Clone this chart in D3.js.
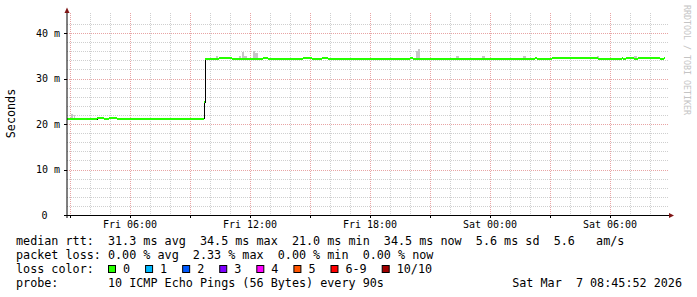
<!DOCTYPE html>
<html>
<head>
<meta charset="utf-8">
<script src="https://cdn.jsdelivr.net/npm/d3@7"></script>
<style>
  body { margin: 0; background: #fff; }
  text { font-family: "DejaVu Sans Mono", monospace; white-space: pre; }
</style>
</head>
<body>
<svg id="chart" width="697" height="297"></svg>
<script>
// median rtt (ms), step values
const rttTimes = [
  "2026-03-06 02:51", "2026-03-06 03:00", "2026-03-06 03:06", "2026-03-06 03:12", "2026-03-06 03:18",
  "2026-03-06 03:27", "2026-03-06 04:03", "2026-03-06 04:21", "2026-03-06 04:42", "2026-03-06 04:57",
  "2026-03-06 05:21", "2026-03-06 05:36", "2026-03-06 05:48", "2026-03-06 06:00", "2026-03-06 07:42",
  "2026-03-06 07:57", "2026-03-06 09:42", "2026-03-06 09:45", "2026-03-06 10:27", "2026-03-06 11:06",
  "2026-03-06 12:39", "2026-03-06 12:54", "2026-03-06 14:39", "2026-03-06 15:06", "2026-03-06 15:36",
  "2026-03-06 15:54", "2026-03-06 20:00", "2026-03-06 20:09", "2026-03-07 02:15", "2026-03-07 02:21",
  "2026-03-07 03:06", "2026-03-07 05:24", "2026-03-07 06:36", "2026-03-07 06:39", "2026-03-07 06:48",
  "2026-03-07 07:12", "2026-03-07 07:24", "2026-03-07 08:30", "2026-03-07 08:42", "2026-03-07 08:45"
];
const rttMedian = [
  21.0, 21.2, 21.0, 21.2, 21.0,
  21.2, 21.0, 21.3, 21.2, 21.3,
  21.0, 21.2, 21.0, 21.2, 21.1,
  21.2, 24.8, 34.3, 34.5, 34.3,
  34.5, 34.3, 34.5, 34.3, 34.5,
  34.3, 34.5, 34.3, 34.5, 34.3,
  34.5, 34.3, 34.5, 34.3, 34.5,
  34.3, 34.5, 34.3, 34.5, 34.5
];

// smoke (ping spread) that shows above the median line
const smokeStart = ["2026-03-06 03:03", "2026-03-06 03:12", "2026-03-06 10:18", "2026-03-06 11:27", "2026-03-06 11:36",
  "2026-03-06 11:42", "2026-03-06 12:09", "2026-03-06 12:15", "2026-03-06 20:18", "2026-03-06 20:24",
  "2026-03-06 22:18", "2026-03-06 23:36", "2026-03-07 01:39", "2026-03-07 05:21", "2026-03-07 07:12"];
const smokeEnd = ["2026-03-06 03:09", "2026-03-06 03:15", "2026-03-06 10:24", "2026-03-06 11:33", "2026-03-06 11:42",
  "2026-03-06 11:51", "2026-03-06 12:15", "2026-03-06 12:24", "2026-03-06 20:24", "2026-03-06 20:30",
  "2026-03-06 22:27", "2026-03-06 23:45", "2026-03-07 01:48", "2026-03-07 05:27", "2026-03-07 07:21"];
const smokeTop = [22.2, 22.0, 34.9, 34.9, 35.9, 34.9, 36.0, 35.5, 36.0, 36.5, 34.9, 34.9, 34.9, 34.9, 34.9];

const yTickLabels = ["0", "10 m", "20 m", "30 m", "40 m"];
const yTickValues = [0, 10, 20, 30, 40];

const lossLabels = ["0", "1", "2", "3", "4", "5", "6-9", "10/10"];
const lossColors = ["#26ff00", "#00b8ff", "#0059ff", "#7e00ff", "#ff00ff", "#ff5500", "#ff0000", "#a10000"];

const legendLines = [
  "median rtt:  31.3 ms avg  34.5 ms max  21.0 ms min  34.5 ms now  5.6 ms sd  5.6   am/s",
  "packet loss: 0.00 % avg  2.33 % max  0.00 % min  0.00 % now",
  "loss color:",
  "probe:       10 ICMP Echo Pings (56 Bytes) every 90s"
];
const stampText = "Sat Mar  7 08:45:52 2026";

const parseT = d3.timeParse("%Y-%m-%d %H:%M");
const rtt = rttTimes.map((t, i) => ({t: parseT(t), v: rttMedian[i]}));

const svg = d3.select('#chart');
const plotL = 67, plotR = 667, plotT = 13, plotB = 215;

const x = d3.scaleTime()
  .domain([parseT("2026-03-06 02:51"), parseT("2026-03-07 08:51")])
  .range([plotL, plotR]);
const y = d3.scaleLinear().domain([0, 44.4]).range([plotB, plotT]);

const px = v => Math.round(v) + 0.5;

// grid
let grid = svg.append('g').attr('class', 'grid').attr('stroke-dasharray', '1,1');

grid.selectAll('line.hmin')
  .data(d3.range(2, 44, 2).filter(d => d % 10 != 0))
  .enter().append('line')
  .attr('x1', plotL).attr('x2', plotR + 1)
  .attr('y1', d => px(y(d))).attr('y2', d => px(y(d)))
  .style('stroke', '#cfcfcf');

grid.selectAll('line.vmin')
  .data(x.ticks(d3.timeHour.every(1)).filter(d => d.getHours() % 3 != 0))
  .enter().append('line')
  .attr('x1', d => px(x(d))).attr('x2', d => px(x(d)))
  .attr('y1', plotT).attr('y2', plotB)
  .style('stroke', '#cfcfcf');

grid.selectAll('line.hmaj')
  .data([10, 20, 30, 40])
  .enter().append('line')
  .attr('x1', plotL).attr('x2', plotR + 1)
  .attr('y1', d => px(y(d))).attr('y2', d => px(y(d)))
  .style('stroke', '#e8a4a4');

grid.selectAll('line.vmaj')
  .data(x.ticks(d3.timeHour.every(3)))
  .enter().append('line')
  .attr('x1', d => px(x(d))).attr('x2', d => px(x(d)))
  .attr('y1', plotT).attr('y2', plotB)
  .style('stroke', '#e8a4a4');

// smoke
const bis = d3.bisector(d => d.t).right;
const medianAt = t => rtt[Math.max(0, bis(rtt, t) - 1)].v;

svg.append('g').attr('class', 'smoke')
  .selectAll('rect')
  .data(smokeTop.map((v, i) => ({s: parseT(smokeStart[i]), e: parseT(smokeEnd[i]), v: v})))
  .enter().append('rect')
  .attr('x', d => x(d.s))
  .attr('width', d => x(d.e) - x(d.s))
  .attr('y', d => y(d.v))
  .attr('height', d => y(medianAt(d.s)) - y(d.v))
  .attr('shape-rendering', 'crispEdges')
  .style('fill', '#c6c6c6');

// median line: black connector first, loss-coloured segments on top
svg.append('path')
  .datum(rtt)
  .attr('d', d3.line().x(d => x(d.t)).y(d => y(d.v)).curve(d3.curveStepAfter))
  .attr('shape-rendering', 'crispEdges')
  .style('fill', 'none')
  .style('stroke', '#000')
  .style('stroke-width', 1);

svg.append('g').attr('class', 'median')
  .selectAll('path')
  .data(rtt.slice(0, -1).map((d, i) => ({a: d, b: rtt[i + 1]})))
  .enter().append('path')
  .attr('d', d => `M${x(d.a.t)},${y(d.a.v)}H${x(d.b.t)}`)
  .attr('shape-rendering', 'crispEdges')
  .style('stroke', lossColors[0])
  .style('stroke-width', 2);

// axes
let axes = svg.append('g').attr('class', 'axes');
axes.append('line')
  .attr('x1', plotL).attr('x2', plotL).attr('y1', plotB + 3).attr('y2', 11)
  .style('stroke', '#000');
axes.append('line')
  .attr('x1', plotL - 3).attr('x2', plotR + 3).attr('y1', plotB + 0.5).attr('y2', plotB + 0.5)
  .style('stroke', '#000');
axes.append('path')
  .attr('d', `M${plotL - 2.5},13 L${plotL},7.5 L${plotL + 2.5},13 Z`)
  .style('fill', '#7f1515');
axes.append('path')
  .attr('d', `M${plotR + 2},${plotB - 2} L${plotR + 7},${plotB + 0.5} L${plotR + 2},${plotB + 3} Z`)
  .style('fill', '#7f1515');

axes.selectAll('line.ytick')
  .data(yTickValues)
  .enter().append('line')
  .attr('x1', plotL - 3).attr('x2', plotL)
  .attr('y1', d => px(y(d))).attr('y2', d => px(y(d)))
  .style('stroke', '#000');

axes.selectAll('line.xtick')
  .data(x.ticks(d3.timeHour.every(3)))
  .enter().append('line')
  .attr('x1', d => px(x(d))).attr('x2', d => px(x(d)))
  .attr('y1', plotB).attr('y2', plotB + 3)
  .style('stroke', '#000');

axes.selectAll('text.ylab')
  .data(yTickValues)
  .enter().append('text')
  .attr('x', d => d == 0 ? 47.5 : 60)
  .attr('y', d => y(d) + 3.8)
  .attr('text-anchor', 'end')
  .style('font-size', '10px')
  .text((d, i) => yTickLabels[i]);

const fmt = d3.timeFormat("%a %H:%M");
axes.selectAll('text.xlab')
  .data(x.ticks(d3.timeHour.every(6)))
  .enter().append('text')
  .attr('x', d => x(d))
  .attr('y', 228)
  .attr('text-anchor', 'middle')
  .style('font-size', '10px')
  .text(d => fmt(d));

svg.append('text')
  .attr('transform', 'translate(15,113.5) rotate(-90)')
  .attr('text-anchor', 'middle')
  .style('font-size', '11.75px')
  .text('Seconds');

svg.append('text')
  .attr('transform', 'translate(684,5) rotate(90)')
  .style('font-size', '8.3px')
  .style('fill', '#c4c4c4')
  .text('RRDTOOL / TOBI OETIKER');

// legend
let legend = svg.append('g').attr('class', 'legend').style('font-size', '11.75px');
legend.selectAll('text.line')
  .data(legendLines)
  .enter().append('text')
  .attr('x', 16)
  .attr('y', (d, i) => 245 + i * 14)
  .text(d => d);

legend.append('text')
  .attr('x', 682).attr('y', 287)
  .attr('text-anchor', 'end')
  .text(stampText);

let bx = 108.5;
lossLabels.forEach((lab, i) => {
  legend.append('rect')
    .attr('x', bx).attr('y', 265.5)
    .attr('width', 7).attr('height', 7)
    .style('fill', lossColors[i])
    .style('stroke', '#000');
  let t = legend.append('text')
    .attr('x', bx + 14.5).attr('y', 273)
    .text(lab);
  bx += 14.5 + t.node().getComputedTextLength() + 15.5;
});
</script>
</body>
</html>
